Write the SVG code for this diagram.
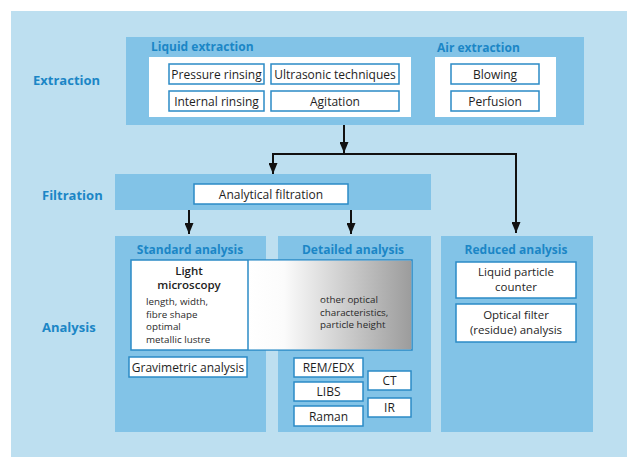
<svg xmlns="http://www.w3.org/2000/svg" width="627" height="457" viewBox="0 0 627 457">
  <defs>
    <linearGradient id="grey" x1="0" y1="0" x2="1" y2="0">
      <stop offset="0" stop-color="#ffffff"/>
      <stop offset="0.22" stop-color="#fbfbfb"/>
      <stop offset="1" stop-color="#9c9c9c"/>
    </linearGradient>
    <marker id="ah" viewBox="0 0 11 9" refX="11" refY="4.5" markerWidth="11" markerHeight="9" markerUnits="userSpaceOnUse" orient="auto">
      <path d="M0 0 L11 4.5 L0 9 Z" fill="#111"/>
    </marker>
    <style>
      .bg { fill: #bddff0; }
      .band { fill: #82c3e7; }
      .panel { fill: #ffffff; }
      .box { fill: #ffffff; stroke: #2b8bc6; stroke-width: 1.5; }
      .t { font-family: "Open Sans", "Noto Sans", sans-serif; font-size: 12px; fill: #1e1e1e; text-anchor: middle; }
      .t2 { font-family: "Open Sans", "Noto Sans", sans-serif; font-size: 11.5px; fill: #1e1e1e; text-anchor: middle; }
      .s { font-family: "Open Sans", "Noto Sans", sans-serif; font-size: 9.8px; fill: #2a2a2a; }
      .h { font-family: "Open Sans", "Noto Sans", sans-serif; font-size: 12px; font-weight: bold; fill: #1b86c6; }
      .lbl { font-family: "Open Sans", "Noto Sans", sans-serif; font-size: 13px; font-weight: bold; fill: #1b86c6; }
      .lm { font-family: "Open Sans", "Noto Sans", sans-serif; font-size: 11.5px; font-weight: 600; fill: #1e1e1e; text-anchor: middle; }
      .con { stroke: #111; stroke-width: 2; fill: none; }
    </style>
  </defs>

  <rect x="0" y="0" width="627" height="457" fill="#ffffff"/>
  <rect class="bg" x="11" y="11" width="616" height="446"/>

  <!-- stage labels -->
  <g id="stage-labels">
    <text class="lbl" x="33" y="85">Extraction</text>
    <text class="lbl" x="42" y="200">Filtration</text>
    <text class="lbl" x="42" y="332">Analysis</text>
  </g>

  <!-- extraction -->
  <g id="extraction">
    <rect class="band" x="126" y="37" width="458" height="88"/>
    <g id="liquid-extraction">
      <text class="h" x="151" y="51">Liquid extraction</text>
      <rect class="panel" x="149" y="57" width="262" height="60"/>
      <g id="pressure-rinsing"><rect class="box" x="169" y="64" width="95" height="20"/><text class="t" x="216.5" y="78.5">Pressure rinsing</text></g>
      <g id="ultrasonic"><rect class="box" x="271" y="64" width="128" height="20"/><text class="t" x="335" y="78.5">Ultrasonic techniques</text></g>
      <g id="internal-rinsing"><rect class="box" x="169" y="91" width="95" height="20"/><text class="t" x="216.5" y="105.5">Internal rinsing</text></g>
      <g id="agitation"><rect class="box" x="271" y="91" width="128" height="20"/><text class="t" x="335" y="105.5">Agitation</text></g>
    </g>
    <g id="air-extraction">
      <text class="h" x="437" y="52">Air extraction</text>
      <rect class="panel" x="435" y="57" width="121" height="60"/>
      <g id="blowing"><rect class="box" x="451" y="64" width="88" height="20"/><text class="t" x="495" y="78.5">Blowing</text></g>
      <g id="perfusion"><rect class="box" x="451" y="91" width="88" height="20"/><text class="t" x="495" y="105.5">Perfusion</text></g>
    </g>
  </g>

  <!-- filtration -->
  <g id="filtration">
    <rect class="band" x="115" y="174" width="316" height="36"/>
    <g id="analytical-filtration"><rect class="box" x="194" y="184" width="154" height="20"/><text class="t" x="271" y="198.5">Analytical filtration</text></g>
  </g>

  <!-- analysis columns -->
  <g id="standard-analysis">
    <rect class="band" x="115" y="236" width="151" height="196"/>
    <text class="h" x="190" y="254" text-anchor="middle">Standard analysis</text>
  </g>
  <g id="detailed-analysis">
    <rect class="band" x="278" y="236" width="153" height="196"/>
    <text class="h" x="353" y="254" text-anchor="middle">Detailed analysis</text>
  </g>
  <g id="reduced-analysis">
    <rect class="band" x="441" y="236" width="152" height="196"/>
    <text class="h" x="516" y="254" text-anchor="middle">Reduced analysis</text>
  </g>

  <g id="light-microscopy">
    <rect class="box" x="131" y="260" width="281" height="90"/>
    <rect x="248" y="260.75" width="163.25" height="88.5" fill="url(#grey)"/>
    <line x1="248" y1="260" x2="248" y2="350" stroke="#2b8bc6" stroke-width="1.5"/>
    <text class="lm" x="189" y="275">Light</text>
    <text class="lm" x="189" y="289">microscopy</text>
    <text class="s" x="146" y="305">length, width,</text>
    <text class="s" x="146" y="317.5">fibre shape</text>
    <text class="s" x="146" y="330">optimal</text>
    <text class="s" x="146" y="342.5">metallic lustre</text>
    <text class="s" x="320" y="303">other optical</text>
    <text class="s" x="320" y="315.5">characteristics,</text>
    <text class="s" x="320" y="328">particle height</text>
  </g>

  <g id="gravimetric"><rect class="box" x="129" y="357" width="118" height="20"/><text class="t" x="188" y="371.5">Gravimetric analysis</text></g>
  <g id="rem-edx"><rect class="box" x="294" y="358" width="69" height="19"/><text class="t" x="328.5" y="372">REM/EDX</text></g>
  <g id="libs"><rect class="box" x="294" y="382" width="69" height="19"/><text class="t" x="328.5" y="396">LIBS</text></g>
  <g id="raman"><rect class="box" x="294" y="406" width="69" height="20"/><text class="t" x="328.5" y="420.5">Raman</text></g>
  <g id="ct"><rect class="box" x="368" y="371" width="43" height="19"/><text class="t" x="389.5" y="385">CT</text></g>
  <g id="ir"><rect class="box" x="368" y="398" width="43" height="19"/><text class="t" x="389.5" y="412">IR</text></g>

  <g id="liquid-particle-counter"><rect class="box" x="456" y="262" width="120" height="36"/><text class="t2" x="516" y="276">Liquid particle</text><text class="t2" x="516" y="291">counter</text></g>
  <g id="optical-filter"><rect class="box" x="456" y="304" width="120" height="38"/><text class="t2" x="516" y="319">Optical filter</text><text class="t2" x="516" y="334">(residue) analysis</text></g>

  <!-- connectors -->
  <g id="connectors">
    <path class="con" d="M344 125 V153" marker-end="url(#ah)"/>
    <path class="con" d="M272 154 H517"/>
    <path class="con" d="M273 154 V174" marker-end="url(#ah)"/>
    <path class="con" d="M516 154 V233" marker-end="url(#ah)"/>
    <path class="con" d="M189 210 V234" marker-end="url(#ah)"/>
    <path class="con" d="M351 210 V234" marker-end="url(#ah)"/>
  </g>
</svg>
